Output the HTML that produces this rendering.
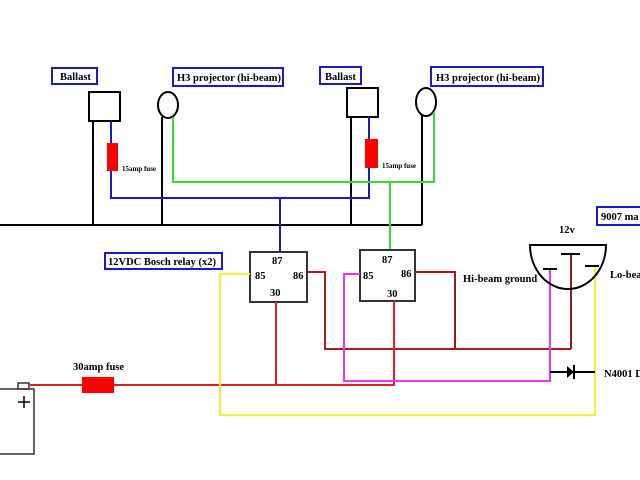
<!DOCTYPE html>
<html><head><meta charset="utf-8"><style>
html,body{margin:0;padding:0;background:#fff;width:640px;height:480px;overflow:hidden}
svg{display:block}
text{font-family:"Liberation Serif",serif;font-weight:bold;fill:#000}
</style></head><body>
<svg width="640" height="480" viewBox="0 0 640 480" xmlns="http://www.w3.org/2000/svg">
<g fill="none" stroke-width="2">
<!-- ground line -->
<path d="M0 225 H422" stroke="#000"/>
<!-- ballast 1 -->
<rect x="89" y="92" width="31" height="29" stroke="#000"/>
<path d="M93 121 V225" stroke="#000"/>
<!-- H3 1 -->
<ellipse cx="168" cy="105" rx="10" ry="13" stroke="#000"/>
<path d="M162 117 V225" stroke="#000"/>
<!-- ballast 2 -->
<rect x="347" y="88" width="31" height="29" stroke="#000"/>
<path d="M351 117 V225" stroke="#000"/>
<!-- H3 2 -->
<ellipse cx="426" cy="102" rx="10" ry="14" stroke="#000"/>
<path d="M422 115 V225" stroke="#000"/>
<!-- blue -->
<path d="M111 121 V198 H369 V117" stroke="#1a1acc"/>
<path d="M280 198 V252" stroke="#1a1acc"/>
<!-- green -->
<path d="M173 117 V182 H434 V112" stroke="#33dd33"/>
<path d="M390 182 V250" stroke="#33dd33"/>
<!-- relays -->
<rect x="250" y="252" width="57" height="50" stroke="#333"/>
<rect x="360" y="250" width="55" height="51" stroke="#333"/>
<!-- dark red 86 -->
<path d="M307 272 H325 V349 H571" stroke="#b01c1c"/>
<path d="M415 272 H455 V349" stroke="#a01818"/>
<path d="M571 254 V349" stroke="#8b2020"/>
<!-- red 30 -->
<path d="M30 385 H394 V301" stroke="#dd2222"/>
<path d="M276 302 V385" stroke="#dd2222"/>
<!-- yellow -->
<path d="M250 274 H220 V415 H595 V267" stroke="#f2f230"/>
<!-- magenta -->
<path d="M360 274 H344 V381 H550 V270" stroke="#ee33ee"/>
<!-- diode line -->
<path d="M550 372 H595" stroke="#000"/>
<!-- bulb -->
<path d="M530 245 H606 A38 44 0 0 1 530 245 Z" stroke="#000"/>
<path d="M543 269 H557 M561 254 H580 M585 266 H599" stroke="#000"/>
<!-- battery -->
<rect x="-1" y="389" width="35" height="65" stroke="#333" stroke-width="1.5"/>
<rect x="18" y="383" width="11" height="6" stroke="#333" stroke-width="1.5"/>
<path d="M24 396 V408 M18 402 H30" stroke="#000" stroke-width="1.5"/>
</g>
<!-- diode -->
<polygon points="567,366 567,378 574,372" fill="#000"/>
<path d="M574 365 V379" stroke="#000" stroke-width="2"/>
<!-- fuses -->
<rect x="107" y="143" width="11" height="28" fill="#ff0000"/>
<rect x="365" y="139" width="13" height="29" fill="#ff0000"/>
<rect x="82" y="377" width="32" height="16" fill="#ff0000"/>
<!-- label boxes -->
<g fill="#fff" stroke="#1a1acc" stroke-width="2">
<rect x="52" y="68" width="45" height="16"/>
<rect x="173" y="68" width="110" height="18"/>
<rect x="320" y="67" width="41" height="17"/>
<rect x="431" y="67" width="112" height="19"/>
<rect x="105" y="253" width="117" height="16"/>
<rect x="597" y="207" width="55" height="18"/>
</g>
<g font-size="10.5">
<text x="60" y="80">Ballast</text>
<text x="177" y="81">H3 projector (hi-beam)</text>
<text x="325" y="80">Ballast</text>
<text x="436" y="81">H3 projector (hi-beam)</text>
<text x="108" y="265">12VDC Bosch relay (x2)</text>
<text x="601" y="220">9007 ma</text>
<text x="559" y="233">12v</text>
<text x="463" y="282">Hi-beam ground</text>
<text x="610" y="278">Lo-bea</text>
<text x="604" y="377">N4001 D</text>
<text x="73" y="370">30amp fuse</text>
<text x="272" y="264">87</text>
<text x="255" y="279">85</text>
<text x="293" y="279">86</text>
<text x="270" y="296">30</text>
<text x="382" y="263">87</text>
<text x="363" y="279">85</text>
<text x="401" y="277">86</text>
<text x="387" y="297">30</text>
</g>
<g font-size="7">
<text x="122" y="171">15amp fuse</text>
<text x="382" y="168">15amp fuse</text>
</g>
</svg>
</body></html>
